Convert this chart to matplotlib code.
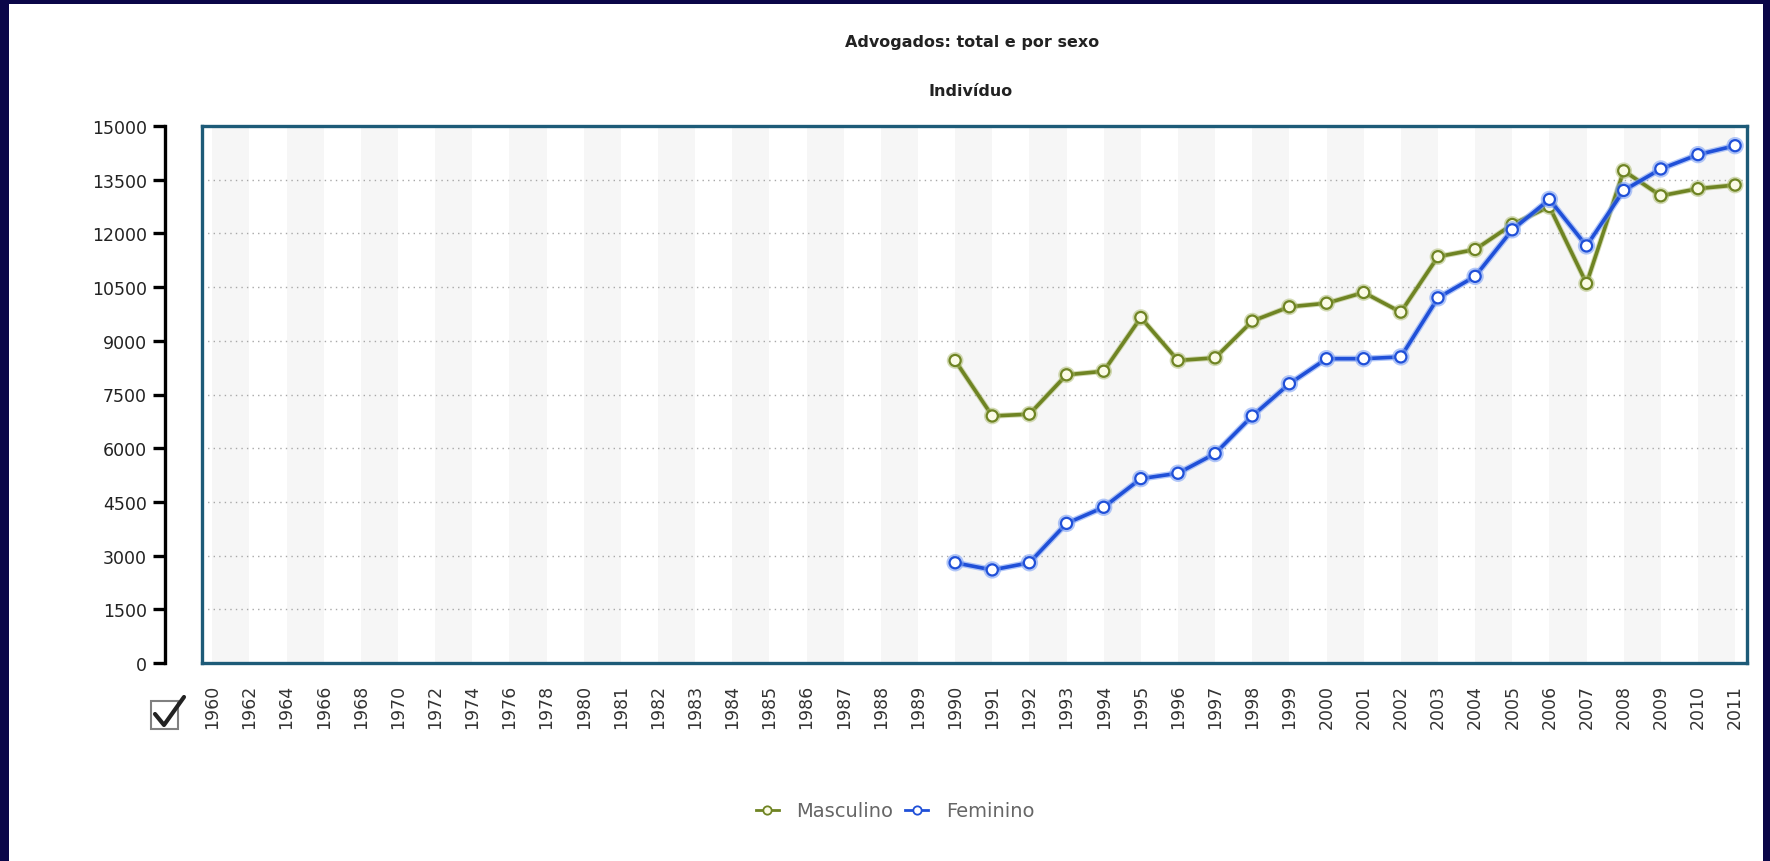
import numpy as np
import matplotlib.pyplot as plt
from matplotlib.lines import Line2D
from matplotlib.patches import Rectangle
import matplotlib.patheffects as pe

plt.rcParams['font.family'] = ['DejaVu Sans']

# x categories as shown on the axis
years = ['1960', '1962', '1964', '1966', '1968', '1970', '1972', '1974', '1976', '1978',
         '1980', '1981', '1982', '1983', '1984', '1985', '1986', '1987', '1988', '1989',
         '1990', '1991', '1992', '1993', '1994', '1995', '1996', '1997', '1998', '1999',
         '2000', '2001', '2002', '2003', '2004', '2005', '2006', '2007', '2008', '2009',
         '2010', '2011']

# years with data
data_years = ['1990', '1991', '1992', '1993', '1994', '1995', '1996', '1997', '1998', '1999',
              '2000', '2001', '2002', '2003', '2004', '2005', '2006', '2007', '2008', '2009',
              '2010', '2011']
masculino = [8450, 6900, 6950, 8050, 8150, 9650, 8450, 8525, 9550, 9950,
             10050, 10350, 9800, 11350, 11550, 12250, 12750, 10600, 13750, 13050,
             13250, 13350]
feminino = [2800, 2600, 2800, 3900, 4350, 5150, 5300, 5850, 6900, 7800,
            8500, 8500, 8550, 10200, 10800, 12100, 12950, 11650, 13200, 13800,
            14200, 14450]
yticks = [0, 1500, 3000, 4500, 6000, 7500, 9000, 10500, 12000, 13500, 15000]

W, H = 1770, 862
fig = plt.figure(figsize=(W / 100, H / 100), dpi=100, facecolor='#0a0648')

# white panel of the page
fig.patches.append(Rectangle((9 / W, 0), (1763 - 9) / W, 1 - 5 / H,
                             transform=fig.transFigure, facecolor='white',
                             edgecolor='none', zorder=-10))

left, right, top, bottom = 201.5, 1747, 127, 664
ax = fig.add_axes([left / W, 1 - bottom / H, (right - left) / W, (bottom - top) / H])
ax.set_facecolor('white')

x = [years.index(y) for y in data_years]

# alternating bands
for i in range(0, len(years) - 1, 2):
    ax.axvspan(i, i + 1, color='#f6f6f6', lw=0, zorder=0)

# dotted grid
for v in yticks[1:-1]:
    ax.axhline(v, color='#a8a8a8', lw=1, ls=(0, (1, 3)), zorder=1)

olive = '#6f8423'
blue = '#2050d8'
ax.plot(x, masculino, color=olive, lw=2.6, marker='o', ms=8, mfc='#fbfbe6',
        mec=olive, mew=1.6, zorder=3,
        path_effects=[pe.Stroke(linewidth=4, foreground='#a9b86a', alpha=0.5), pe.Normal()])
ax.plot(x, feminino, color=blue, lw=2.6, marker='o', ms=8, mfc='white',
        mec=blue, mew=1.6, zorder=4,
        path_effects=[pe.Stroke(linewidth=4.5, foreground='#7fa2f5', alpha=0.6), pe.Normal()])

ax.set_xlim(-0.29, len(years) - 1 + 0.32)
ax.set_ylim(0, 15000)
ax.set_xticks(range(len(years)))
ax.set_xticklabels(years, rotation=90, fontsize=12.5, color='#333333')
ax.tick_params(axis='x', length=0, pad=15)
ax.tick_params(axis='y', left=False, labelleft=False)
for s in ax.spines.values():
    s.set_color('#1d5b78')
    s.set_linewidth(2.4)

# separate black y axis to the left of the frame
yax = fig.add_axes([165 / W, 1 - bottom / H, 0.0001, (bottom - top) / H], sharey=ax)
for name in ['top', 'right', 'bottom']:
    yax.spines[name].set_visible(False)
yax.spines['left'].set_linewidth(2.4)
yax.spines['left'].set_color('black')
yax.set_facecolor('none')
yax.set_xticks([])
yax.set_yticks(yticks)
yax.set_yticklabels([str(v) for v in yticks], fontsize=12.5, color='#222222')
yax.tick_params(axis='y', length=9, width=2.4, color='black', pad=4)

# titles
fig.text(972 / W, 1 - 43 / H, 'Advogados: total e por sexo', ha='center', va='center',
         fontsize=11.5, fontweight='bold', color='#222222')
fig.text(971 / W, 1 - 91 / H, 'Indivíduo', ha='center', va='center',
         fontsize=11.5, fontweight='bold', color='#222222')

# legend
handles = [
    Line2D([], [], color=olive, lw=2, marker='o', ms=6, mfc='#fbfbe6', mec=olive, mew=1.3),
    Line2D([], [], color=blue, lw=2, marker='o', ms=6, mfc='white', mec=blue, mew=1.3),
]
leg = fig.legend(handles, ['Masculino', 'Feminino'], loc='center',
                 bbox_to_anchor=(895 / W, 1 - 812 / H), ncol=2, frameon=False,
                 fontsize=14, handlelength=1.2, handletextpad=0.9, columnspacing=0.6)
for t in leg.get_texts():
    t.set_color('#666666')

# checkbox icon
fig.patches.append(Rectangle((151 / W, 1 - 730 / H), 27 / W, 28 / H,
                             transform=fig.transFigure, facecolor='white',
                             edgecolor='#808080', lw=1.5, zorder=2))
fig.lines.append(Line2D([155 / W, 164 / W, 184 / W],
                        [1 - 715 / H, 1 - 726 / H, 1 - 698 / H],
                        transform=fig.transFigure, color='#222222', lw=3,
                        solid_capstyle='round', zorder=3))

fig.savefig('out.png', dpi=100, facecolor=fig.get_facecolor())
